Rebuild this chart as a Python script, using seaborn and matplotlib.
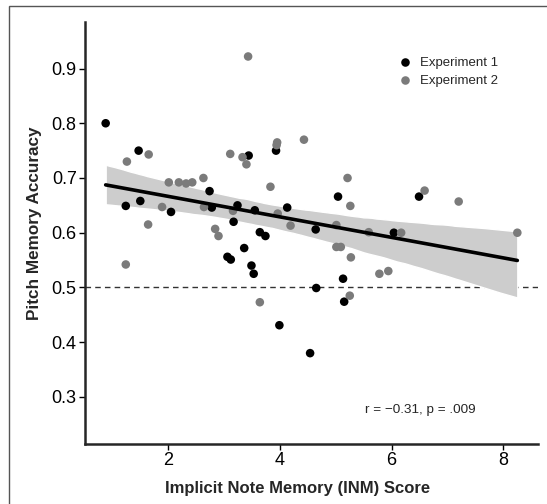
import pandas as pd
import matplotlib.pyplot as plt
import seaborn as sns
from matplotlib.patches import Rectangle

# Experiment 1 (black points)
exp1_inm = [0.88, 1.47, 1.24, 1.50, 2.05, 2.74, 2.78, 3.24, 3.17, 3.36,
            3.44, 3.93, 4.13, 3.64, 3.74, 3.55, 4.64, 5.04, 6.04, 6.49,
            3.06, 3.12, 3.49, 3.53, 5.13, 4.65, 5.15, 3.99, 4.54]
exp1_acc = [0.800, 0.750, 0.649, 0.658, 0.638, 0.676, 0.646, 0.650, 0.620, 0.572,
            0.741, 0.750, 0.646, 0.601, 0.594, 0.641, 0.606, 0.666, 0.600, 0.666,
            0.556, 0.551, 0.540, 0.525, 0.516, 0.499, 0.474, 0.431, 0.380]

# Experiment 2 (grey points)
exp2_inm = [1.65, 1.26, 2.01, 2.19, 2.32, 2.43, 2.63, 1.89, 2.64, 3.16,
            1.64, 2.84, 2.90, 3.11, 3.33, 3.40, 3.43, 4.43, 3.94, 3.95,
            3.83, 4.19, 5.21, 5.26, 3.96, 5.01, 5.59, 5.01, 5.09, 6.59,
            7.20, 6.17, 8.25, 5.27, 5.78, 5.94, 5.25, 3.64, 1.24]
exp2_acc = [0.743, 0.730, 0.692, 0.692, 0.690, 0.692, 0.700, 0.647, 0.647, 0.640,
            0.615, 0.607, 0.594, 0.744, 0.738, 0.725, 0.922, 0.770, 0.760, 0.765,
            0.684, 0.613, 0.700, 0.649, 0.635, 0.614, 0.601, 0.574, 0.574, 0.677,
            0.657, 0.600, 0.600, 0.555, 0.525, 0.530, 0.485, 0.473, 0.542]

x_ticks = [2, 4, 6, 8]
y_ticks = [0.3, 0.4, 0.5, 0.6, 0.7, 0.8, 0.9]

df = pd.DataFrame({
    "inm": exp1_inm + exp2_inm,
    "acc": exp1_acc + exp2_acc,
    "group": ["Experiment 1"] * len(exp1_inm) + ["Experiment 2"] * len(exp2_inm),
})

sns.set_style("ticks")
plt.rcParams["font.family"] = ["Liberation Sans", "DejaVu Sans"]

fig = plt.figure(figsize=(5.47, 5.04), dpi=100)
ax = fig.add_axes([85 / 547, 1 - 444 / 504, 453 / 547, 422 / 504])

# chance line
ax.axhline(0.5, color="#333333", lw=1, ls=(0, (4, 3)), zorder=1)

sns.regplot(data=df, x="inm", y="acc", scatter=False, ci=95, ax=ax,
            color="black", line_kws={"lw": 2.6, "zorder": 4})
for coll in ax.collections:
    coll.set_facecolor("#cdcdcd")
    coll.set_alpha(1)
    coll.set_zorder(2)

sns.scatterplot(data=df, x="inm", y="acc", hue="group", ax=ax,
                palette={"Experiment 1": "black", "Experiment 2": "#7b7b7b"},
                s=38, linewidth=0, zorder=3)

ax.set_xlim(0.51, 8.62)
ax.set_ylim(0.214, 0.985)
ax.set_xticks(x_ticks)
ax.set_yticks(y_ticks)
ax.set_yticklabels([f"{v:.1f}" for v in y_ticks])
ax.tick_params(labelsize=13, length=4, width=1, colors="black", pad=2)
ax.set_xlabel("Implicit Note Memory (INM) Score", fontsize=12, fontweight="bold")
ax.set_ylabel("Pitch Memory Accuracy", fontsize=12.3, fontweight="bold")
ax.xaxis.set_label_coords(0.47, -0.087)
ax.yaxis.set_label_coords(-0.095, 0.522)
for side in ["left", "bottom"]:
    ax.spines[side].set_linewidth(1.8)
sns.despine(ax=ax)

leg = ax.legend(loc="upper left", bbox_to_anchor=(0.652, 0.945), frameon=False,
                fontsize=9.5, handletextpad=0.1, labelspacing=0.45, markerscale=1.0)

ax.text(6.51, 0.276, "r = \u22120.31, p = .009", fontsize=9.7, ha="center", va="center")

# figure border
fig.patches.append(Rectangle((9 / 547, -0.01), 1.0, 1 - 6 / 504 + 0.01,
                             transform=fig.transFigure, fill=False,
                             edgecolor="#555555", lw=1))

fig.savefig("out.png", dpi=100)
